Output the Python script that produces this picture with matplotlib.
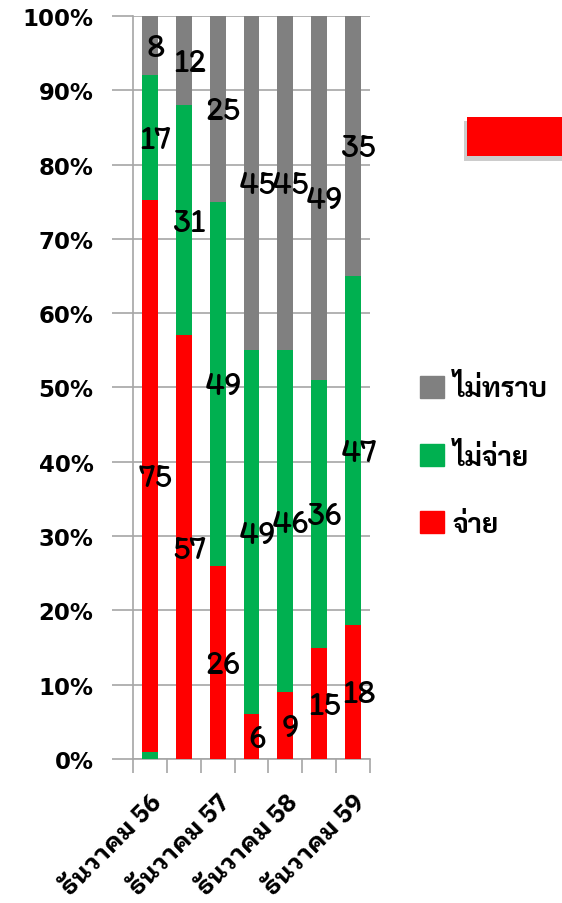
import matplotlib
matplotlib.use("Agg")
import numpy as np
import matplotlib.pyplot as plt
from matplotlib.patches import Rectangle, Patch
from matplotlib.ticker import FixedLocator, PercentFormatter

# data (percent of respondents)
x_labels = ['ธันวาคม 56', '', 'ธันวาคม 57', '', 'ธันวาคม 58', '', 'ธันวาคม 59']
pay = [75, 57, 26, 6, 9, 15, 18]          # จ่าย
not_pay = [17, 31, 49, 49, 46, 36, 47]    # ไม่จ่าย
unknown = [8, 12, 25, 45, 45, 49, 35]     # ไม่ทราบ
not_pay_base = [1, 0, 0, 0, 0, 0, 0]      # thin green sliver under the first bar

series_names = ['จ่าย', 'ไม่จ่าย', 'ไม่ทราบ']
colors = ['#FF0000', '#00B050', '#808080']

raw = np.array([not_pay_base, pay, not_pay, unknown], dtype=float)
pct = raw / raw.sum(axis=0) * 100

fig = plt.figure(figsize=(5.62, 9.04), dpi=100)
ax = fig.add_axes([0.2367, 0.1593, 0.4217, 0.8219])

x = np.arange(len(x_labels))
width = 0.47
bottom = np.zeros(len(x))
seg_colors = [colors[1], colors[0], colors[1], colors[2]]
for i in range(4):
    ax.bar(x, pct[i], width, bottom=bottom, color=seg_colors[i], zorder=3)
    if i > 0:
        for xi, b, h, v in zip(x, bottom, pct[i], raw[i]):
            ax.annotate(f"{v:.0f}", (xi, b + h / 2), xytext=(4, -2),
                        textcoords='offset points', ha='center', va='center',
                        fontsize=24, family='Itim',
                        color='black', zorder=5)
    bottom += pct[i]

ax.set_xlim(-0.5, len(x) - 0.5)
ax.set_ylim(0, 100)
ax.yaxis.set_major_locator(FixedLocator(np.arange(0, 101, 10)))
ax.yaxis.set_major_formatter(PercentFormatter(decimals=0))
ax.grid(axis='y', color='#A6A6A6', linewidth=1.2, zorder=0)

# category boundaries as major ticks, labels on minor ticks
ax.xaxis.set_major_locator(FixedLocator(np.arange(-0.5, len(x), 1)))
ax.xaxis.set_major_formatter(plt.NullFormatter())
ax.set_xticks(x, minor=True)
ax.set_xticklabels(x_labels, minor=True, rotation=45, ha='right',
                   rotation_mode='anchor', fontsize=18,
                   family='IBM Plex Sans Thai Looped', fontweight='bold')
ax.tick_params(axis='x', which='major', length=10, color='#A6A6A6', width=1.2)
ax.tick_params(axis='x', which='minor', length=0, pad=22)
ax.tick_params(axis='y', length=15, color='#A6A6A6', width=1.2, pad=13.5)
for lbl in ax.get_yticklabels():
    lbl.set_fontweight('bold')
    lbl.set_fontsize(16.5)
    lbl.set_family('DejaVu Sans')

for side in ['top', 'right']:
    ax.spines[side].set_visible(False)
ax.spines['left'].set_color('#A6A6A6')
ax.spines['left'].set_linewidth(1.2)
ax.spines['bottom'].set_color('#A6A6A6')
ax.spines['bottom'].set_linewidth(1.2)

# legend (reverse order like the stack)
handles = [Patch(color=colors[i]) for i in [2, 1, 0]]
labels = [series_names[i] for i in [2, 1, 0]]
leg = ax.legend(handles, labels, loc='center left',
                bbox_to_anchor=(0.748, 0.4945), bbox_transform=fig.transFigure,
                frameon=False, handlelength=0.85, handleheight=0.85,
                handletextpad=0.3, labelspacing=1.45, borderpad=0,
                borderaxespad=0,
                prop={'family': 'Sarabun', 'weight': 'bold', 'size': 20})

# red banner shape at top right
fig.patches.append(Rectangle((0.831, 0.826), 0.2, 0.044, transform=fig.transFigure,
                             facecolor='#FF0000', edgecolor='none', zorder=2))
fig.patches.append(Rectangle((0.826, 0.821), 0.2, 0.044, transform=fig.transFigure,
                             facecolor='#9A9A9A', edgecolor='none', alpha=0.5, zorder=1))

fig.savefig("out.png", dpi=100)
